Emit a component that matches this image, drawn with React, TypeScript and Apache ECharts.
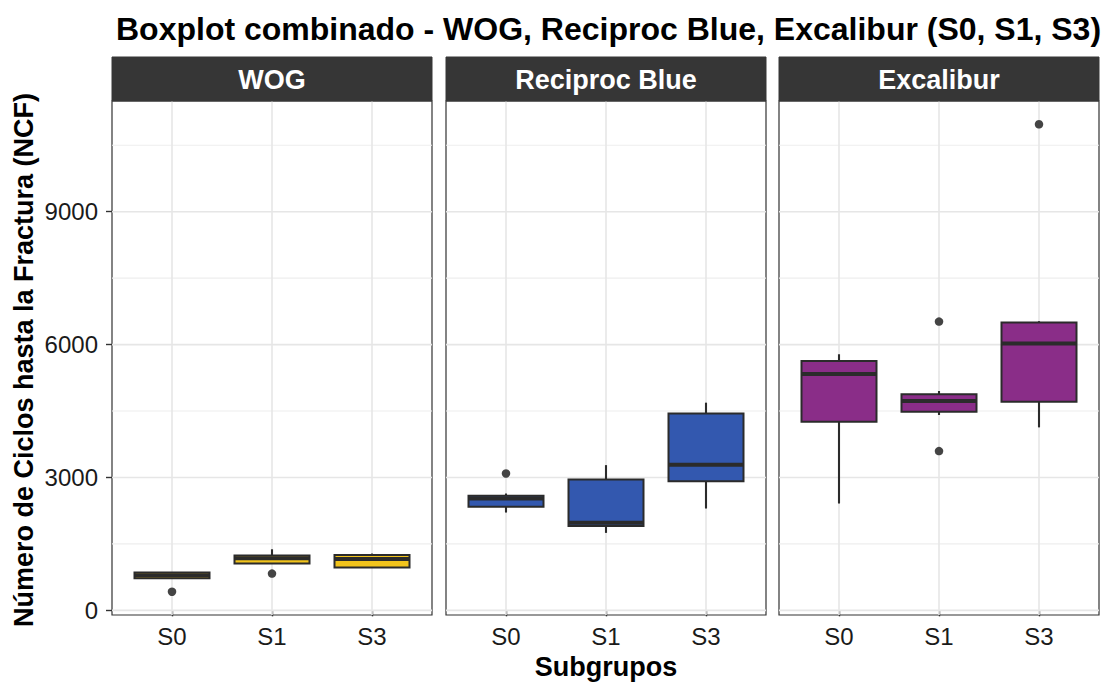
import React, { useEffect, useRef } from "react";
import * as echarts from "echarts";

const panels = ["WOG", "Reciproc Blue", "Excalibur"];
const categories = ["S0", "S1", "S3"];
const fillColors = ["#F2C41C", "#3358AF", "#8A2D88"];

// [min, Q1, median, Q3, max] per subgroup
const wogBoxes = [
  [724, 724, 790, 852, 866],
  [1056, 1056, 1176, 1237, 1379],
  [965, 965, 1160, 1250, 1282],
];
const reciprocBoxes = [
  [2208, 2337, 2525, 2585, 2638],
  [1749, 1907, 1975, 2955, 3279],
  [2299, 2917, 3286, 4447, 4689],
];
const excaliburBoxes = [
  [2412, 4259, 5337, 5631, 5782],
  [4410, 4485, 4726, 4877, 4952],
  [4131, 4711, 6023, 6498, 6528],
];
// [subgroup index, value]
const wogOutliers = [
  [0, 420],
  [1, 830],
];
const reciprocOutliers = [[0, 3090]];
const excaliburOutliers = [
  [1, 6520],
  [1, 3596],
  [2, 10975],
];

const yMajorTicks = [0, 3000, 6000, 9000];
const yMinorTicks = [1500, 4500, 7500, 10500];
const yMin = -105;
const yMax = 11500;
const xMin = 0.4;
const xMax = 3.6;

const allBoxes = [wogBoxes, reciprocBoxes, excaliburBoxes];
const allOutliers = [wogOutliers, reciprocOutliers, excaliburOutliers];

const FONT = "Liberation Sans";
const PANEL_LEFT = [112, 446, 779];
const PANEL_W = 320;
const PANEL_TOP = 101;
const PANEL_H = 514;

export default function App() {
  const ref = useRef<HTMLDivElement>(null);

  useEffect(() => {
    if (!ref.current) return;
    const chart = echarts.init(ref.current, null, { renderer: "svg" });

    const grids: any[] = [];
    const xAxes: any[] = [];
    const yAxes: any[] = [];
    const series: any[] = [];
    const graphics: any[] = [];

    panels.forEach((name, i) => {
      grids.push({
        left: PANEL_LEFT[i],
        top: PANEL_TOP,
        width: PANEL_W,
        height: PANEL_H,
        show: true,
        backgroundColor: "#ffffff",
        borderColor: "#333333",
        borderWidth: 1.2,
        containLabel: false,
      });
      xAxes.push({
        type: "value",
        gridIndex: i,
        min: xMin,
        max: xMax,
        axisLine: { show: false },
        axisTick: {
          show: true,
          customValues: [1, 2, 3],
          length: 6,
          lineStyle: { color: "#333333", width: 1.4 },
        },
        axisLabel: {
          show: true,
          customValues: [1, 2, 3],
          formatter: (v: number) => categories[Math.round(v) - 1] ?? "",
          fontSize: 24,
          color: "#1a1a1a",
          fontFamily: FONT,
          margin: 9,
        },
        splitLine: { show: false },
      });
      yAxes.push({
        type: "value",
        gridIndex: i,
        min: yMin,
        max: yMax,
        axisLine: { show: false },
        axisTick: {
          show: i === 0,
          customValues: yMajorTicks,
          length: 6,
          lineStyle: { color: "#333333", width: 1.4 },
        },
        axisLabel: {
          show: i === 0,
          customValues: yMajorTicks,
          formatter: (v: number) => String(v),
          fontSize: 24,
          color: "#1a1a1a",
          fontFamily: FONT,
          margin: 14,
        },
        splitLine: { show: false },
      });

      // gridlines: [x, y, kind] kind 0 = major horizontal, 1 = minor horizontal, 2 = vertical
      const gridData = [
        ...yMajorTicks.map((v) => [xMin, v, 0]),
        ...yMinorTicks.map((v) => [xMin, v, 1]),
        ...categories.map((_, k) => [k + 1, yMin, 2]),
      ];
      series.push({
        type: "custom",
        xAxisIndex: i,
        yAxisIndex: i,
        z: 1,
        silent: true,
        encode: { x: 0, y: 1 },
        data: gridData,
        renderItem: (params: any, api: any) => {
          const kind = api.value(2);
          if (kind === 2) {
            const a = api.coord([api.value(0), yMin]);
            const b = api.coord([api.value(0), yMax]);
            return {
              type: "line",
              shape: { x1: a[0], y1: a[1], x2: b[0], y2: b[1] },
              style: { stroke: "#E6E6E6", lineWidth: 1.6 },
            };
          }
          const a = api.coord([xMin, api.value(1)]);
          const b = api.coord([xMax, api.value(1)]);
          return {
            type: "line",
            shape: { x1: a[0], y1: a[1], x2: b[0], y2: b[1] },
            style: {
              stroke: kind === 0 ? "#E6E6E6" : "#EEEEEE",
              lineWidth: kind === 0 ? 1.6 : 1.1,
            },
          };
        },
      });

      // boxes
      const boxData = allBoxes[i].map((b, k) => [k + 1, ...b]);
      const fill = fillColors[i];
      series.push({
        type: "custom",
        xAxisIndex: i,
        yAxisIndex: i,
        z: 3,
        silent: true,
        encode: { x: 0, y: [1, 2, 3, 4, 5] },
        data: boxData,
        renderItem: (params: any, api: any) => {
          const x = api.value(0);
          const pMin = api.coord([x, api.value(1)]);
          const pQ1 = api.coord([x, api.value(2)]);
          const pMed = api.coord([x, api.value(3)]);
          const pQ3 = api.coord([x, api.value(4)]);
          const pMax = api.coord([x, api.value(5)]);
          const halfW = api.size([0.75, 0])[0] / 2;
          const cx = pMed[0];
          const stroke = "#2b2b2b";
          return {
            type: "group",
            children: [
              {
                type: "line",
                shape: { x1: cx, y1: pQ3[1], x2: cx, y2: pMax[1] },
                style: { stroke, lineWidth: 2.1 },
              },
              {
                type: "line",
                shape: { x1: cx, y1: pQ1[1], x2: cx, y2: pMin[1] },
                style: { stroke, lineWidth: 2.1 },
              },
              {
                type: "rect",
                shape: { x: cx - halfW, y: pQ3[1], width: halfW * 2, height: pQ1[1] - pQ3[1] },
                style: { fill, stroke, lineWidth: 2 },
              },
              {
                type: "line",
                shape: { x1: cx - halfW, y1: pMed[1], x2: cx + halfW, y2: pMed[1] },
                style: { stroke, lineWidth: 4 },
              },
            ],
          };
        },
      });

      // outliers
      series.push({
        type: "scatter",
        xAxisIndex: i,
        yAxisIndex: i,
        z: 4,
        silent: true,
        symbol: "circle",
        symbolSize: 8.5,
        itemStyle: { color: "#444444", opacity: 1 },
        data: allOutliers[i].map((o) => [o[0] + 1, o[1]]),
      });

      // strip header
      graphics.push({
        type: "rect",
        shape: { x: PANEL_LEFT[i], y: 57, width: PANEL_W, height: 44 },
        style: { fill: "#363636", stroke: "#363636", lineWidth: 1 },
        z: 10,
      });
      graphics.push({
        type: "text",
        x: PANEL_LEFT[i] + PANEL_W / 2,
        y: 80,
        style: {
          text: name,
          fill: "#ffffff",
          font: `bold 27px "${FONT}"`,
          align: "center",
          verticalAlign: "middle",
        },
        z: 11,
      });
    });

    graphics.push({
      type: "text",
      x: 606,
      y: 667,
      style: {
        text: "Subgrupos",
        fill: "#000000",
        font: `bold 27px "${FONT}"`,
        align: "center",
        verticalAlign: "middle",
      },
    });
    graphics.push({
      type: "text",
      x: 24,
      y: 360,
      rotation: Math.PI / 2,
      style: {
        text: "Número de Ciclos hasta la Fractura (NCF)",
        fill: "#000000",
        font: `bold 27px "${FONT}"`,
        align: "center",
        verticalAlign: "middle",
      },
    });

    chart.setOption({
      animation: false,
      backgroundColor: "#ffffff",
      title: {
        text: "Boxplot combinado - WOG, Reciproc Blue, Excalibur (S0, S1, S3)",
        left: 111,
        top: 8,
        textStyle: { fontSize: 32, fontWeight: "bold", color: "#000000", fontFamily: FONT },
      },
      grid: grids,
      xAxis: xAxes,
      yAxis: yAxes,
      series,
      graphic: graphics,
    });

    return () => chart.dispose();
  }, []);

  return (
    <div
      ref={ref}
      style={{ position: "fixed", left: 0, top: 0, width: 1104, height: 682 }}
    />
  );
}
